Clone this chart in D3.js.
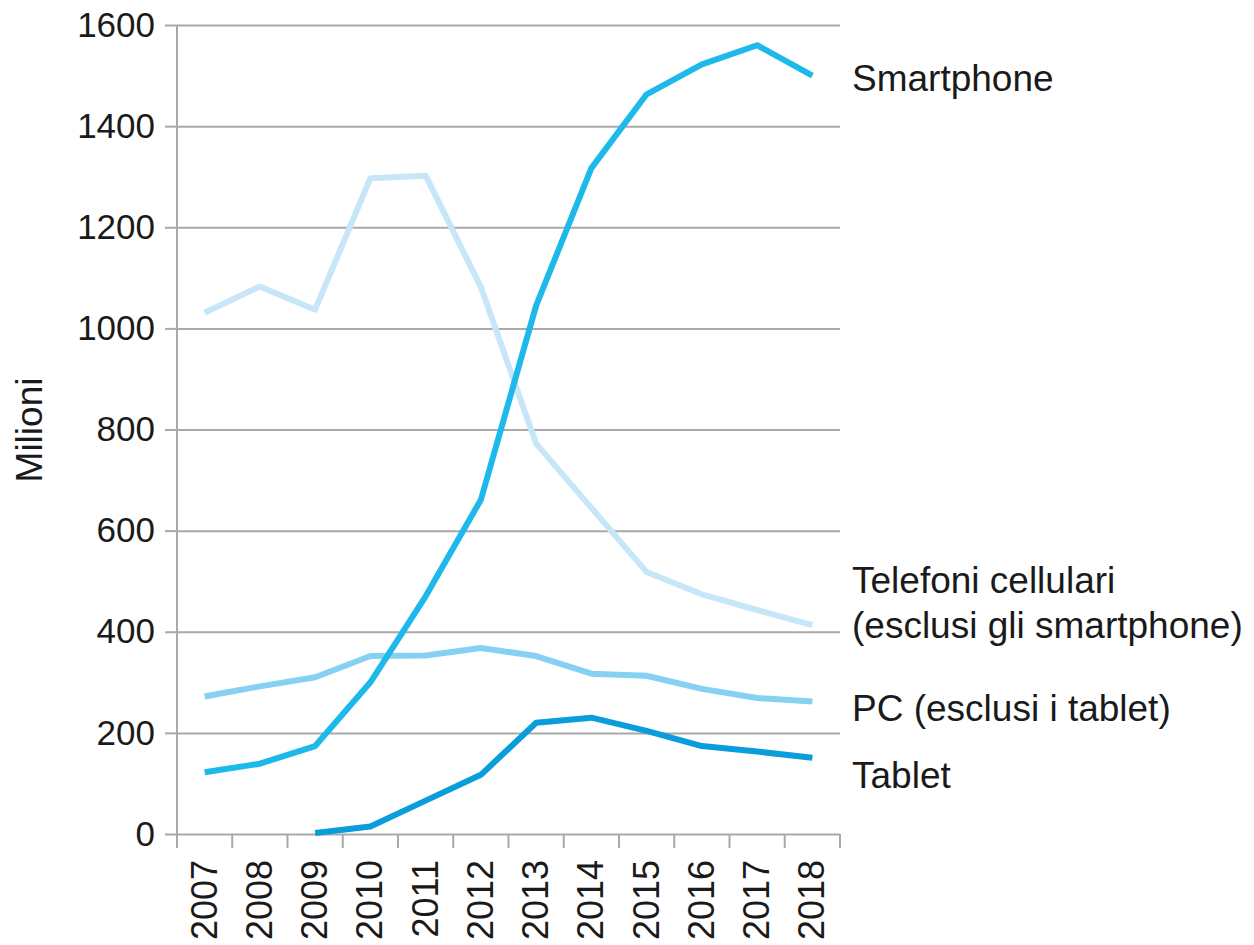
<!DOCTYPE html>
<html>
<head>
<meta charset="utf-8">
<script src="https://cdn.jsdelivr.net/npm/d3@7"></script>
<style>
  html, body { margin: 0; padding: 0; background: #fff; }
  svg { display: block; font-family: "Liberation Sans", Arial, Helvetica, sans-serif; }
</style>
</head>
<body>
<svg id="chart" width="1254" height="945"></svg>
<script>
// Vendite mondiali di dispositivi (milioni di unità)
const years = ["2007","2008","2009","2010","2011","2012","2013","2014","2015","2016","2017","2018"];
const yTicks = [0, 200, 400, 600, 800, 1000, 1200, 1400, 1600];

const smartphone = [122, 139, 174, 300, 470, 661, 1045, 1317, 1463, 1522, 1560, 1500];
const telefoni   = [1031, 1083, 1037, 1297, 1302, 1082, 772, 645, 518, 474, 443, 413];
const pc         = [272, 292, 310, 352, 353, 368, 352, 317, 313, 287, 269, 262];
const tablet     = [null, null, 2, 15, 66, 117, 220, 230, 204, 174, 163, 151];

const seriesNames = ["Telefoni cellulari\n(esclusi gli smartphone)", "PC (esclusi i tablet)", "Tablet", "Smartphone"];

const svg = d3.select("#chart");
const plotLeft = 177, plotRight = 840, plotTop = 25, plotBottom = 834;

const x = d3.scaleBand().domain(years).range([plotLeft, plotRight]);
const y = d3.scaleLinear().domain([0, 1600]).range([plotBottom, plotTop]);
const cx = d => x(d) + x.bandwidth() / 2;

const gridColor = "#a9a9a9";
const textColor = "#1a1a1a";

// horizontal grid lines with outward ticks
const yAxis = svg.append("g")
  .attr("transform", `translate(${plotLeft},0)`)
  .call(d3.axisLeft(y).tickValues(yTicks).tickSize(12).tickPadding(10).tickFormat(d3.format("d")));
yAxis.select(".domain").remove();
yAxis.selectAll(".tick line").attr("stroke", gridColor).attr("stroke-width", 2);
yAxis.selectAll(".tick text").attr("fill", textColor).style("font-size", "35px");
yAxis.attr("font-family", null).attr("font-size", null);
yAxis.selectAll(".tick").append("line")
  .attr("x1", 0).attr("x2", plotRight - plotLeft)
  .attr("stroke", gridColor).attr("stroke-width", 2);

// vertical axis line
svg.append("line")
  .attr("x1", plotLeft).attr("x2", plotLeft)
  .attr("y1", y(1600)).attr("y2", plotBottom + 14)
  .attr("stroke", gridColor).attr("stroke-width", 2);

// x axis: ticks at band boundaries, labels at band centres
const boundaries = years.map(d => x(d)).concat([plotRight]);
svg.append("g").selectAll("line").data(boundaries).join("line")
  .attr("x1", d => d).attr("x2", d => d)
  .attr("y1", plotBottom).attr("y2", plotBottom + 14)
  .attr("stroke", gridColor).attr("stroke-width", 2);

svg.append("g").selectAll("text").data(years).join("text")
  .attr("transform", d => `translate(${cx(d) + 12},${plotBottom + 26}) rotate(-90)`)
  .attr("text-anchor", "end")
  .attr("fill", textColor)
  .style("font-size", "36px")
  .text(d => d);

// y axis title
svg.append("text")
  .attr("transform", `translate(42,430) rotate(-90)`)
  .attr("text-anchor", "middle")
  .attr("fill", textColor)
  .style("font-size", "37px")
  .text("Milioni");

// series lines
const line = d3.line()
  .defined(d => d.v !== null)
  .x(d => cx(d.year))
  .y(d => y(d.v));

const series = [
  { values: telefoni,   color: "#c7e7f9" },
  { values: pc,         color: "#86d0f2" },
  { values: tablet,     color: "#0a9ddc" },
  { values: smartphone, color: "#1cb9ea" }
];

svg.append("g").selectAll("path").data(series).join("path")
  .attr("fill", "none")
  .attr("stroke", d => d.color)
  .attr("stroke-width", 6)
  .attr("stroke-linejoin", "round")
  .attr("d", d => line(years.map((yr, i) => ({ year: yr, v: d.values[i] }))));

// series labels
const labelX = 852;
const labelRows = [
  { text: seriesNames[3].split("\n"), cy: 78 },
  { text: seriesNames[0].split("\n"), cy: 580 },
  { text: seriesNames[1].split("\n"), cy: 708 },
  { text: seriesNames[2].split("\n"), cy: 775 }
];
labelRows.forEach(r => {
  r.text.forEach((t, i) => {
    svg.append("text")
      .attr("x", labelX)
      .attr("y", r.cy + 13 + i * 45)
      .attr("fill", textColor)
      .style("font-size", "37px")
      .text(t);
  });
});
</script>
</body>
</html>
